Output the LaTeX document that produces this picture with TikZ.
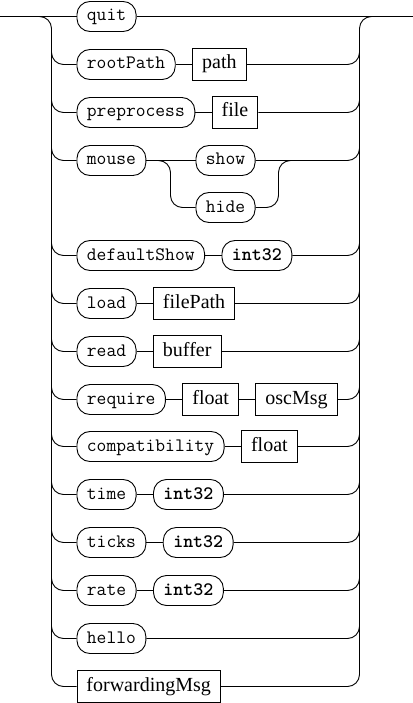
\documentclass[tikz,border=0pt]{standalone}
\usepackage{fontspec}
\setmainfont{Liberation Serif}
\usetikzlibrary{positioning}
\begin{document}
\begin{tikzpicture}[x=1pt,y=-1pt,line width=0.9pt,
  term/.style={draw, rounded corners=13pt, font=\ttfamily\fontsize{19}{22}\selectfont,
    inner xsep=10pt, inner ysep=0pt, minimum height=30pt, text height=12pt, text depth=3pt},
  bterm/.style={term, font=\ttfamily\bfseries\fontsize{19}{22}\selectfont},
  nterm/.style={draw, font=\fontsize{20}{24}\selectfont, inner xsep=9.5pt, inner ysep=0pt,
    minimum height=32pt, text height=14pt, text depth=5pt},
  rr/.style={rounded corners=12pt},
  node distance=16.5pt]
\useasboundingbox (0,0) rectangle (412,703);
\begin{scope}[shift={(0.5,0.5)}]
% rows
\node[term, anchor=west] (quit) at (76,16) {quit};
\node[term, anchor=west] (rootPath) at (76,64) {rootPath};
\node[nterm, right=of rootPath] (path) {path};
\node[term, anchor=west] (preprocess) at (76,112) {preprocess};
\node[nterm, right=of preprocess] (file) {file};
\node[term, anchor=west] (mouse) at (76,160) {mouse};
\node[term, anchor=west] (show) at (195,160) {show};
\node[term, anchor=west] (hide) at (195,207) {hide};
\node[term, anchor=west] (defaultShow) at (76,255) {defaultShow};
\node[bterm, right=of defaultShow] (intA) {int32};
\node[term, anchor=west] (load) at (76,303) {load};
\node[nterm, right=of load] (filePath) {filePath};
\node[term, anchor=west] (read) at (76,351) {read};
\node[nterm, right=of read] (buffer) {buffer};
\node[term, anchor=west] (require) at (76,399) {require};
\node[nterm, right=of require] (floatA) {float};
\node[nterm, right=of floatA] (oscMsg) {oscMsg};
\node[term, anchor=west] (compat) at (76,446) {compatibility};
\node[nterm, right=of compat] (floatB) {float};
\node[term, anchor=west] (time) at (76,494) {time};
\node[bterm, right=of time] (intB) {int32};
\node[term, anchor=west] (ticks) at (76,542) {ticks};
\node[bterm, right=of ticks] (intC) {int32};
\node[term, anchor=west] (rate) at (76,590) {rate};
\node[bterm, right=of rate] (intD) {int32};
\node[term, anchor=west] (hello) at (76,638) {hello};
\node[nterm, anchor=west] (fwd) at (76,686) {forwardingMsg};
% coordinates
\coordinate (in) at (-1,16);
\coordinate (out) at (413,16);
\coordinate (Lj) at (30,16);
\coordinate (Rj) at (382,16);
\coordinate (L0) at (51,16);
\coordinate (R0) at (359,16);
\coordinate (Ltop) at (51,40);
\coordinate (Rtop) at (359,40);
\foreach \k/\y in {1/64,2/112,3/160,5/255,6/303,7/351,8/399,9/446,10/494,11/542,12/590,13/638,14/686}{
  \coordinate (L\k) at (51,\y);
  \coordinate (R\k) at (359,\y);
}
\coordinate (ma) at (150,160);
\coordinate (mb1) at (170,160);
\coordinate (mb2) at (170,207);
\coordinate (mc2) at (278,207);
\coordinate (mc1) at (278,160);
\coordinate (md) at (300,160);
% main line and buses
\draw (in) -- (quit) -- (out);
\draw[rr] (Lj) -- (L0) -- (L14) -- (fwd);
\draw[rr] (fwd) -- (R14) -- (R0) -- (Rj);
% row connectors
\draw[rr] (Ltop) -- (L1) -- (rootPath);
\draw (rootPath) -- (path);
\draw[rr] (path) -- (R1) -- (Rtop);
\draw[rr] (Ltop) -- (L2) -- (preprocess);
\draw (preprocess) -- (file);
\draw[rr] (file) -- (R2) -- (Rtop);
\draw[rr] (Ltop) -- (L3) -- (mouse);
\draw (mouse) -- (show);
\draw[rr] (ma) -- (mb1) -- (mb2) -- (hide);
\draw[rr] (hide) -- (mc2) -- (mc1) -- (md);
\draw[rr] (show) -- (R3) -- (Rtop);
\draw[rr] (Ltop) -- (L5) -- (defaultShow);
\draw (defaultShow) -- (intA);
\draw[rr] (intA) -- (R5) -- (Rtop);
\draw[rr] (Ltop) -- (L6) -- (load);
\draw (load) -- (filePath);
\draw[rr] (filePath) -- (R6) -- (Rtop);
\draw[rr] (Ltop) -- (L7) -- (read);
\draw (read) -- (buffer);
\draw[rr] (buffer) -- (R7) -- (Rtop);
\draw[rr] (Ltop) -- (L8) -- (require);
\draw (require) -- (floatA);
\draw (floatA) -- (oscMsg);
\draw[rr] (oscMsg) -- (R8) -- (Rtop);
\draw[rr] (Ltop) -- (L9) -- (compat);
\draw (compat) -- (floatB);
\draw[rr] (floatB) -- (R9) -- (Rtop);
\draw[rr] (Ltop) -- (L10) -- (time);
\draw (time) -- (intB);
\draw[rr] (intB) -- (R10) -- (Rtop);
\draw[rr] (Ltop) -- (L11) -- (ticks);
\draw (ticks) -- (intC);
\draw[rr] (intC) -- (R11) -- (Rtop);
\draw[rr] (Ltop) -- (L12) -- (rate);
\draw (rate) -- (intD);
\draw[rr] (intD) -- (R12) -- (Rtop);
\draw[rr] (Ltop) -- (L13) -- (hello);
\draw[rr] (hello) -- (R13) -- (Rtop);
\end{scope}
\end{tikzpicture}
\end{document}
